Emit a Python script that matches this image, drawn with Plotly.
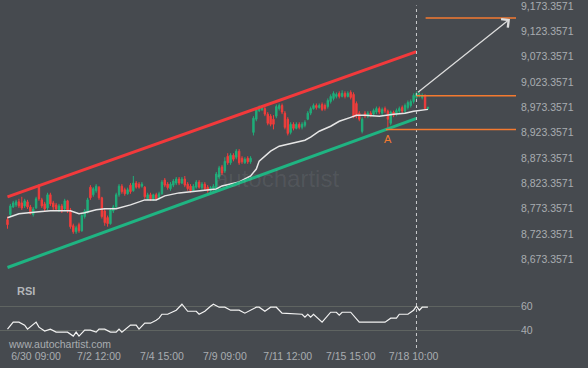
import plotly.graph_objects as go

# ---------------- data ----------------
bar_idx = list(range(148))

open_ = [8752, 8762, 8777, 8781, 8787, 8785, 8779, 8787, 8777, 8762,
         8775, 8816, 8791, 8783, 8775, 8801, 8785, 8781, 8771, 8779,
         8773, 8789, 8771, 8740, 8728, 8742, 8730, 8758, 8766, 8816,
         8801, 8809, 8816, 8795, 8769, 8756, 8744, 8769, 8777, 8801,
         8818, 8811, 8803, 8820, 8809, 8824, 8822, 8818, 8816, 8793,
         8801, 8793, 8801, 8795, 8803, 8830, 8822, 8813, 8820, 8824,
         8832, 8824, 8832, 8822, 8818, 8809, 8816, 8826, 8815, 8822,
         8816, 8809, 8813, 8813, 8836, 8856, 8848, 8877, 8864, 8879,
         8875, 8887, 8873, 8864, 8873, 8866, 8924, 8950, 8967, 8969,
         8971, 8960, 8956, 8950, 8956, 8971, 8977, 8962, 8950, 8924,
         8940, 8932, 8940, 8934, 8938, 8950, 8962, 8971, 8977, 8973,
         8979, 8977, 8975, 8985, 8991, 8995, 9001, 8995, 9001, 8995,
         9003, 8999, 8981, 8962, 8926, 8962, 8956, 8962, 8960, 8964,
         8971, 8962, 8971, 8966, 8942, 8964, 8960, 8966, 8973, 8966,
         8973, 8977, 8985, 8993, 8997, 8993, 8997, 8971]

high = [8758, 8783, 8789, 8791, 8793, 8797, 8793, 8791, 8781, 8777,
        8797, 8822, 8795, 8787, 8805, 8805, 8789, 8785, 8783, 8783,
        8793, 8791, 8775, 8744, 8740, 8746, 8764, 8773, 8795, 8820,
        8816, 8822, 8818, 8797, 8773, 8760, 8775, 8781, 8805, 8822,
        8822, 8815, 8815, 8824, 8838, 8828, 8826, 8826, 8818, 8805,
        8805, 8803, 8805, 8807, 8830, 8834, 8826, 8826, 8832, 8836,
        8836, 8836, 8838, 8826, 8822, 8822, 8830, 8830, 8826, 8826,
        8820, 8818, 8822, 8846, 8858, 8860, 8875, 8883, 8883, 8883,
        8891, 8891, 8877, 8875, 8877, 8877, 8956, 8973, 8977, 8977,
        8975, 8964, 8960, 8958, 8979, 8981, 8981, 8966, 8954, 8944,
        8944, 8944, 8944, 8944, 8948, 8966, 8975, 8981, 8981, 8981,
        8983, 8981, 8991, 8999, 9005, 9003, 9005, 9007, 9005, 9005,
        9007, 9003, 8985, 8966, 8954, 8966, 8966, 8966, 8971, 8975,
        8975, 8973, 8975, 8969, 8967, 8967, 8971, 8975, 8977, 8981,
        8987, 8989, 9001, 9005, 9003, 9001, 8999, 8975]

low = [8734, 8758, 8775, 8777, 8775, 8771, 8775, 8773, 8762, 8758,
       8773, 8789, 8775, 8769, 8771, 8779, 8771, 8769, 8767, 8765,
       8771, 8765, 8734, 8724, 8724, 8726, 8728, 8754, 8764, 8791,
       8797, 8805, 8791, 8754, 8740, 8738, 8742, 8765, 8773, 8797,
       8803, 8799, 8801, 8803, 8807, 8813, 8813, 8815, 8793, 8791,
       8789, 8789, 8791, 8791, 8801, 8816, 8811, 8809, 8816, 8820,
       8820, 8822, 8816, 8809, 8805, 8807, 8813, 8813, 8811, 8809,
       8805, 8805, 8809, 8809, 8832, 8840, 8844, 8860, 8860, 8867,
       8871, 8860, 8862, 8862, 8862, 8862, 8918, 8946, 8964, 8966,
       8956, 8938, 8936, 8930, 8952, 8967, 8960, 8930, 8918, 8920,
       8928, 8930, 8930, 8930, 8934, 8948, 8958, 8969, 8969, 8971,
       8966, 8967, 8971, 8981, 8987, 8991, 8991, 8993, 8991, 8993,
       8989, 8952, 8952, 8946, 8922, 8952, 8952, 8954, 8956, 8960,
       8960, 8958, 8962, 8929.6, 8938, 8954, 8956, 8962, 8962, 8962,
       8969, 8973, 8981, 8989, 8993, 8989, 8969, 8969]

close = [8742, 8779, 8785, 8787, 8779, 8775, 8789, 8777, 8764, 8773,
         8793, 8793, 8779, 8773, 8801, 8783, 8777, 8773, 8779, 8769,
         8789, 8769, 8738, 8728, 8736, 8730, 8760, 8769, 8791, 8795,
         8813, 8818, 8795, 8758, 8746, 8744, 8771, 8777, 8801, 8818,
         8807, 8803, 8811, 8807, 8824, 8816, 8816, 8822, 8797, 8801,
         8793, 8801, 8793, 8803, 8826, 8820, 8815, 8822, 8828, 8832,
         8824, 8832, 8820, 8813, 8809, 8818, 8826, 8816, 8822, 8813,
         8809, 8815, 8818, 8842, 8854, 8844, 8867, 8864, 8879, 8871,
         8887, 8864, 8866, 8871, 8866, 8873, 8952, 8969, 8971, 8973,
         8960, 8942, 8940, 8940, 8975, 8977, 8964, 8934, 8922, 8940,
         8932, 8940, 8934, 8940, 8944, 8962, 8971, 8977, 8973, 8977,
         8969, 8971, 8987, 8995, 9001, 8999, 8995, 9001, 8995, 9001,
         8993, 8956, 8956, 8950, 8950, 8956, 8962, 8958, 8967, 8971,
         8964, 8969, 8966, 8950, 8964, 8958, 8967, 8971, 8966, 8977,
         8983, 8985, 8997, 9001, 8999, 8997, 8971, 8973]

# moving average (read at sample bars)
ma_idx = [0, 4, 11, 15, 22, 25, 27, 31, 34, 38, 43, 48, 52, 55, 60, 67, 73, 75,
          78, 81, 85, 87, 88, 92, 95, 99, 104, 106, 109, 113, 116, 120, 122,
          125, 130, 135, 139, 142, 146, 147]
ma_val = [8755.7, 8763.5, 8767.4, 8769.4, 8769.4, 8763.5, 8765.5, 8771.3, 8773.3,
          8773.3, 8781.1, 8790.9, 8790.9, 8798.8, 8804.7, 8808.6, 8812.5, 8818.4,
          8822.3, 8826.2, 8838.0, 8851.8, 8867.4, 8887.0, 8896.8, 8902.7, 8908.6,
          8914.5, 8926.3, 8936.1, 8945.9, 8953.7, 8957.6, 8957.6, 8955.7, 8959.6,
          8961.6, 8965.5, 8969.4, 8969.4]

# RSI (read at sample bars)
rsi_idx = [0, 1, 2, 4, 6, 7, 10, 11, 13, 15, 17, 21, 23, 24, 25, 27, 29, 31, 32,
           34, 36, 38, 39, 40, 43, 45, 46, 48, 50, 52, 53, 54, 56, 59, 60, 61, 63,
           66, 67, 69, 71, 72, 74, 76, 78, 81, 83, 85, 87, 88, 90, 92, 94, 96,
           103, 104, 105, 106, 107, 110, 113, 115, 116, 117, 120, 123, 132, 134,
           136, 137, 140, 141, 142, 143, 144, 145, 147]
rsi_val = [40.8, 44.2, 46.7, 46.7, 44.2, 40.8, 46.7, 42.5, 39.2, 40.8, 38.3, 38.3,
           35.0, 38.3, 35.0, 40.0, 40.0, 38.3, 40.8, 40.8, 38.3, 38.3, 40.8, 38.3,
           44.2, 44.2, 40.8, 45.8, 45.8, 48.3, 50.0, 53.3, 53.3, 56.7, 59.2, 61.7,
           55.8, 55.8, 53.3, 55.8, 60.0, 61.7, 59.2, 59.2, 56.7, 56.7, 54.2, 56.7,
           59.2, 59.2, 55.8, 59.2, 59.2, 54.2, 53.3, 50.8, 53.3, 50.8, 53.3, 46.7,
           55.0, 55.0, 52.5, 55.0, 55.0, 46.7, 46.7, 50.0, 50.0, 53.3, 53.3, 55.0,
           56.7, 60.0, 56.7, 59.2, 59.2]

# pattern (channel) lines
channel_idx = [0, 143]
upper_channel = [8796.8, 9083.2]
lower_channel = [8657.6, 8951.8]

# levels
target_level = 9149.8
resistance_level = 8996.3
support_level = 8929.6
forecast_start = (143, 9000.8)
forecast_end = (175.7, 9147.9)
now_idx = 143
point_a_idx = 133
level_end_idx = 177.8

time_tick_idx = [10, 32, 54, 76, 98, 120, 142]
time_tick_text = ["6/30 09:00", "7/2 12:00", "7/4 15:00", "7/9 09:00",
                  "7/11 12:00", "7/15 15:00", "7/18 10:00"]
price_tick_vals = [9173.3571, 9123.3571, 9073.3571, 9023.3571, 8973.3571,
                   8923.3571, 8873.3571, 8823.3571, 8773.3571, 8723.3571, 8673.3571]
price_tick_text = ["9,173.3571", "9,123.3571", "9,073.3571", "9,023.3571",
                   "8,973.3571", "8,923.3571", "8,873.3571", "8,823.3571",
                   "8,773.3571", "8,723.3571", "8,673.3571"]
rsi_tick_vals = [40, 60]

# ---------------- style ----------------
BG = "#464a4f"
GREEN = "#1fae7a"
RED = "#f23d3b"
CH_RED = "#f2393b"
CH_GREEN = "#1fb482"
ORANGE = "#f47a30"
TXT = "#a9adb1"
FONT = "Liberation Sans, Arial, sans-serif"
FS = 10.5

fig = go.Figure()

fig.add_trace(go.Candlestick(
    x=bar_idx, open=open_, high=high, low=low, close=close,
    increasing=dict(line=dict(color=GREEN, width=1), fillcolor=GREEN),
    decreasing=dict(line=dict(color=RED, width=1), fillcolor=RED),
    whiskerwidth=0, xaxis="x", yaxis="y", hoverinfo="skip"))

fig.add_trace(go.Scatter(x=ma_idx, y=ma_val, mode="lines",
                         line=dict(color="#e6e6e6", width=1.5),
                         xaxis="x", yaxis="y", hoverinfo="skip"))

fig.add_trace(go.Scatter(x=channel_idx, y=upper_channel, mode="lines",
                         line=dict(color=CH_RED, width=3),
                         xaxis="x", yaxis="y", hoverinfo="skip"))
fig.add_trace(go.Scatter(x=channel_idx, y=lower_channel, mode="lines",
                         line=dict(color=CH_GREEN, width=3),
                         xaxis="x", yaxis="y", hoverinfo="skip"))

fig.add_trace(go.Scatter(x=rsi_idx, y=rsi_val, mode="lines",
                         line=dict(color="#f2f2f2", width=1.2),
                         xaxis="x", yaxis="y2", hoverinfo="skip"))

shapes = [
    dict(type="line", xref="x", yref="paper", x0=now_idx, x1=now_idx,
         y0=0.0, y1=0.99, line=dict(color="#c9cbcd", width=1, dash="3px,3px")),
    dict(type="line", xref="x", yref="y", x0=146.2, x1=level_end_idx,
         y0=target_level, y1=target_level, line=dict(color=ORANGE, width=1.5)),
    dict(type="line", xref="x", yref="y", x0=now_idx, x1=level_end_idx,
         y0=resistance_level, y1=resistance_level, line=dict(color=ORANGE, width=1.5)),
    dict(type="line", xref="x", yref="y", x0=132.3, x1=level_end_idx,
         y0=support_level, y1=support_level, line=dict(color=ORANGE, width=1.5)),
]

annotations = [
    dict(x=forecast_end[0], y=forecast_end[1], ax=forecast_start[0], ay=forecast_start[1],
         xref="x", yref="y", axref="x", ayref="y", text="", showarrow=True,
         arrowhead=4, arrowsize=1.6, arrowwidth=1.3, arrowcolor="#dcdcdc"),
    dict(x=point_a_idx, y=support_level, xref="x", yref="y", text="A",
         showarrow=False, yanchor="top", yshift=-1,
         font=dict(family=FONT, size=11, color=ORANGE)),
    dict(x=0.0288, y=0.1638, xref="paper", yref="paper", text="<b>RSI</b>",
         showarrow=False, xanchor="left", yanchor="middle",
         font=dict(family=FONT, size=11, color="#b3b6b9")),
    dict(x=0.0115, y=0.0115, xref="paper", yref="paper", text="www.autochartist.com",
         showarrow=False, xanchor="left", yanchor="middle",
         font=dict(family=FONT, size=FS, color=TXT)),
    dict(x=0.532, y=0.49, xref="paper", yref="paper", text="autochartist",
         showarrow=False, xanchor="center", yanchor="middle",
         font=dict(family=FONT, size=24, color="rgba(255,255,255,0.07)")),
]

fig.update_layout(
    width=588, height=368,
    margin=dict(l=0, r=68, t=0, b=20),
    paper_bgcolor=BG, plot_bgcolor=BG,
    showlegend=False,
    font=dict(family=FONT, size=FS, color=TXT),
    xaxis=dict(range=[-2.62, 179.2], anchor="y2", tickmode="array",
               tickvals=time_tick_idx, ticktext=time_tick_text,
               showgrid=False, zeroline=False, showline=False, ticks="",
               rangeslider=dict(visible=False),
               tickfont=dict(family=FONT, size=FS, color=TXT)),
    yaxis=dict(domain=[0.2241, 1], range=[8651.7, 9181.2], side="right",
               anchor="x", tickmode="array", tickvals=price_tick_vals,
               ticktext=price_tick_text, showgrid=False, zeroline=False,
               showline=False, ticks="", ticklabeloverflow="allow",
               tickfont=dict(family=FONT, size=FS, color=TXT)),
    yaxis2=dict(domain=[0, 0.1954], range=[25.0, 81.7], side="right",
                anchor="x", tickmode="array", tickvals=rsi_tick_vals,
                showgrid=True, gridcolor="#5f6461", gridwidth=1,
                zeroline=False, showline=False, ticks="",
                tickfont=dict(family=FONT, size=FS, color=TXT)),
    shapes=shapes,
    annotations=annotations,
)

fig.write_html("out.html", config={"displayModeBar": False},
               post_script="document.body.style.margin='0';document.body.style.overflow='hidden';")
